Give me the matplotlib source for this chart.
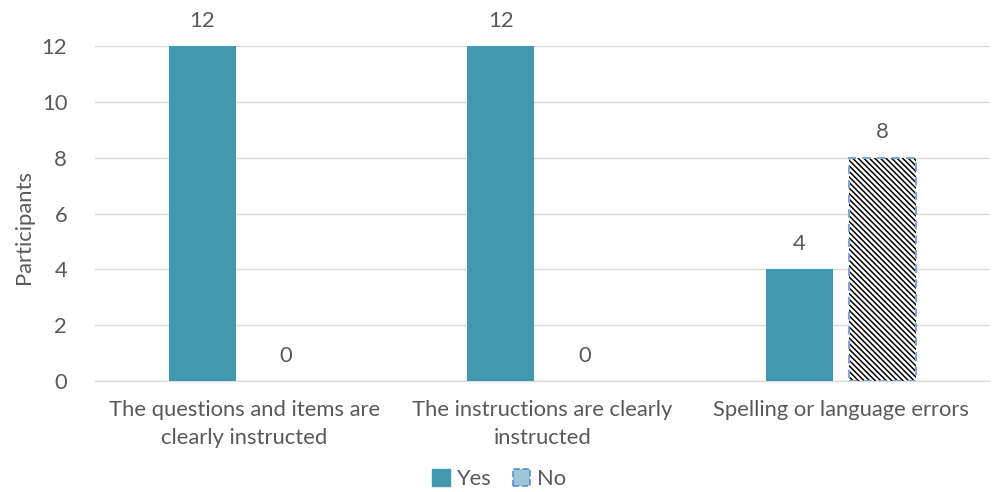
import matplotlib
matplotlib.use("Agg")
import matplotlib.pyplot as plt
from matplotlib.patches import Patch
import numpy as np

categories = ["The questions and items are\nclearly instructed",
              "The instructions are clearly\ninstructed",
              "Spelling or language errors"]
yes_vals = [12, 12, 4]
no_vals = [0, 0, 8]
yticks = [0, 2, 4, 6, 8, 10, 12]

plt.rcParams['font.family'] = ['Lato', 'DejaVu Sans']
plt.rcParams['hatch.linewidth'] = 1.1
TXT = '#595959'
YES_C = '#4198AF'
FS = 15.8

fig = plt.figure(figsize=(9.98, 4.92), dpi=100)
ax = fig.add_axes([95/998, 1-381/492, (990-95)/998, (381-46)/492])

x = np.arange(len(categories))
w = 0.225
off = 0.14
ax.bar(x - off, yes_vals, w, color=YES_C, zorder=3)
nz = [i for i, v in enumerate(no_vals) if v > 0]
ax.bar(x[nz] + off, [no_vals[i] for i in nz], w, facecolor='white', edgecolor='black',
       hatch='\\' * 6, linewidth=0, zorder=3)
ax.bar(x[nz] + off, [no_vals[i] for i in nz], w, facecolor='none', edgecolor='#7FA6D3',
       linestyle=(0, (4, 3)), linewidth=1.5, zorder=4)

for xi, v in zip(x - off, yes_vals):
    ax.text(xi, v + 0.55, str(v), ha='center', va='bottom', fontsize=FS, color=TXT)
for xi, v in zip(x + off, no_vals):
    ax.text(xi, v + 0.55, str(v), ha='center', va='bottom', fontsize=FS, color=TXT)

ax.set_xlim(-0.5, 2.5)
ax.set_ylim(0, 12)
ax.set_yticks(yticks)
ax.set_xticks(x)
ax.set_xticklabels(categories, fontsize=FS, color=TXT, linespacing=1.45)
ax.tick_params(axis='y', labelsize=FS, labelcolor=TXT, length=0, pad=20)
ax.tick_params(axis='x', length=0, pad=14)
ax.yaxis.grid(True, color='#D9D9D9', linewidth=1, zorder=0)
ax.set_axisbelow(True)
for s in ['top', 'right', 'left']:
    ax.spines[s].set_visible(False)
ax.spines['bottom'].set_color('#D9D9D9')
ax.spines['bottom'].set_zorder(1)
ax.set_ylabel('Participants', fontsize=FS, color=TXT)
ax.yaxis.set_label_coords((34 - 95) / 895, 0.46)

handles = [Patch(facecolor=YES_C, edgecolor=YES_C, label='Yes'),
           Patch(facecolor='#9CC5D8', edgecolor='#5B8FD0', linestyle='--', linewidth=1.2, label='No')]
fig.legend(handles=handles, loc='center', bbox_to_anchor=(0.5, 1-479/492), ncol=2, frameon=False,
           fontsize=FS, labelcolor=TXT, handlelength=0.8, handleheight=0.8, handletextpad=0.3,
           columnspacing=1.0, borderpad=0)

fig.savefig('out.png', dpi=100)
